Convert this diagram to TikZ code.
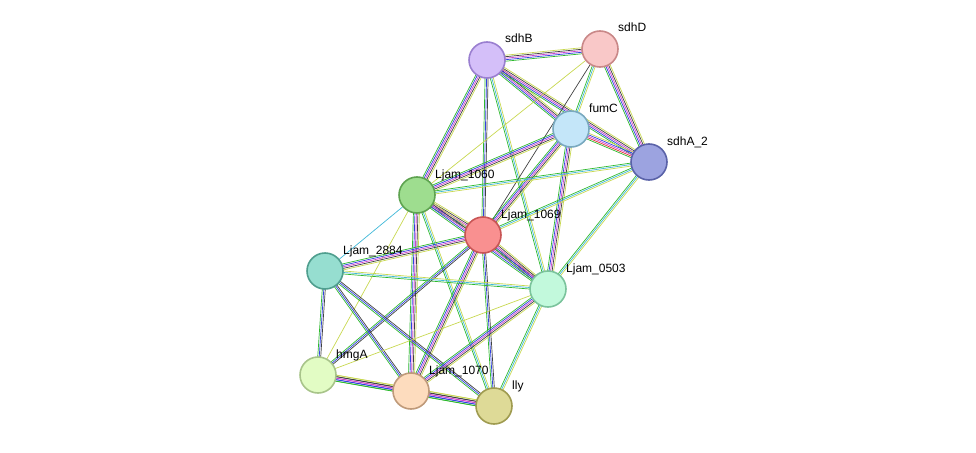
\documentclass[tikz,border=0pt]{standalone}
\usepackage{fontspec}
\setmainfont{Liberation Sans}
\usetikzlibrary{calc,backgrounds}

\definecolor{lgreen}{HTML}{2DB92D}
\definecolor{lblue}{HTML}{3040E0}
\definecolor{lpink}{HTML}{D040D0}
\definecolor{ldark}{HTML}{404040}
\definecolor{lyel}{HTML}{C8D850}
\definecolor{lcyan}{HTML}{40B8D8}
\definecolor{lred}{HTML}{E03030}

\definecolor{sdhBf}{HTML}{D4BFF9}\definecolor{sdhBd}{HTML}{9A7FD0}
\definecolor{sdhDf}{HTML}{F9C8C8}\definecolor{sdhDd}{HTML}{C98888}
\definecolor{fumCf}{HTML}{C4E6F9}\definecolor{fumCd}{HTML}{79A9BF}
\definecolor{sdhAf}{HTML}{9CA3E0}\definecolor{sdhAd}{HTML}{5A62A8}
\definecolor{ljsf}{HTML}{9EDD8F}\definecolor{ljsd}{HTML}{5EA350}
\definecolor{ljnf}{HTML}{F99090}\definecolor{ljnd}{HTML}{C85555}
\definecolor{ljef}{HTML}{96DED0}\definecolor{ljed}{HTML}{4F9E8E}
\definecolor{ljzf}{HTML}{C2F9DC}\definecolor{ljzd}{HTML}{7BC39C}
\definecolor{hmgf}{HTML}{E2FCC4}\definecolor{hmgd}{HTML}{A8C48A}
\definecolor{ljtf}{HTML}{FDDCBE}\definecolor{ljtd}{HTML}{BF9A7A}
\definecolor{llyf}{HTML}{DEDA97}\definecolor{llyd}{HTML}{9F9B50}

% edge bundles: offset/colour
\newcommand\lkfull{-3/lgreen,-1.5/lblue,0/lpink,1.5/ldark,3/lyel}
\newcommand\lkred{-3/lgreen,-1.5/lred,0/lpink,1.5/lblue,3/lyel}
\newcommand\lkthree{-1.5/lgreen,0/lblue,1.5/ldark}
\newcommand\lkgc{-1.5/lgreen,0/lcyan,1.5/lyel}
\newcommand\lkyel{0/lyel}
\newcommand\lkcyan{0/lcyan}
\newcommand\lkdark{0/ldark}
\newcommand\lnk[3]{\foreach \o/\c in #3 {\draw[\c, line width=0.7pt] ($(#1)!\o pt!90:(#2)$) -- ($(#2)!\o pt!-90:(#1)$);}}

\tikzset{
  prot/.style 2 args={circle, draw=#2, fill=#1, line width=1.6pt, minimum size=36pt, inner sep=0pt},
  plab/.style={font=\fontsize{12}{13}\selectfont, inner sep=0pt, anchor=base west}
}

\begin{document}
\begin{tikzpicture}[x=1pt, y=-1pt]
    \useasboundingbox (0,0) rectangle (976,452);

    \node[prot={sdhBf}{sdhBd}] (sdhB) at (487,60) {};
    \node[prot={sdhDf}{sdhDd}] (sdhD) at (600,49) {};
    \node[prot={fumCf}{fumCd}] (fumC) at (571,129) {};
    \node[prot={sdhAf}{sdhAd}] (sdhA) at (649,162) {};
    \node[prot={ljsf}{ljsd}] (lj1060) at (417,195) {};
    \node[prot={ljnf}{ljnd}] (lj1069) at (483,235) {};
    \node[prot={ljef}{ljed}] (lj2884) at (325,271) {};
    \node[prot={ljzf}{ljzd}] (lj0503) at (548,289) {};
    \node[prot={hmgf}{hmgd}] (hmgA) at (318,375) {};
    \node[prot={ljtf}{ljtd}] (lj1070) at (411,391) {};
    \node[prot={llyf}{llyd}] (lly) at (494,406) {};

    % labels
    \node[plab] at (505,43) {sdhB};
    \node[plab] at (618,32) {sdhD};
    \node[plab] at (589,112) {fumC};
    \node[plab] at (667,145) {sdhA\_2};
    \node[plab] at (435,178) {Ljam\_1060};
    \node[plab] at (501,218) {Ljam\_1069};
    \node[plab] at (343,254) {Ljam\_2884};
    \node[plab] at (566,272) {Ljam\_0503};
    \node[plab] at (336,358) {hmgA};
    \node[plab] at (429,374) {Ljam\_1070};
    \node[plab] at (512,389) {lly};

    \begin{pgfonlayer}{background}
    \lnk{sdhB}{sdhD}{\lkfull}
    \lnk{sdhB}{fumC}{\lkfull}
    \lnk{sdhB}{sdhA}{\lkfull}
    \lnk{sdhB}{lj1060}{\lkfull}
    \lnk{sdhB}{lj1069}{\lkthree}
    \lnk{sdhB}{lj0503}{\lkgc}
    \lnk{sdhD}{fumC}{\lkgc}
    \lnk{sdhD}{sdhA}{\lkfull}
    \lnk{sdhD}{lj1069}{\lkdark}
    \lnk{sdhD}{lj1060}{\lkyel}
    \lnk{fumC}{sdhA}{\lkred}
    \lnk{fumC}{lj1060}{\lkfull}
    \lnk{fumC}{lj1069}{\lkfull}
    \lnk{fumC}{lj0503}{\lkfull}
    \lnk{sdhA}{lj1060}{\lkgc}
    \lnk{sdhA}{lj1069}{\lkgc}
    \lnk{sdhA}{lj0503}{\lkgc}
    \lnk{lj1060}{lj1069}{\lkfull}
    \lnk{lj1060}{lj2884}{\lkcyan}
    \lnk{lj1060}{lj0503}{\lkfull}
    \lnk{lj1060}{lj1070}{\lkfull}
    \lnk{lj1060}{lly}{\lkgc}
    \lnk{lj1060}{hmgA}{\lkyel}
    \lnk{lj1069}{lj2884}{\lkfull}
    \lnk{lj1069}{lj0503}{\lkfull}
    \lnk{lj1069}{hmgA}{\lkthree}
    \lnk{lj1069}{lj1070}{\lkfull}
    \lnk{lj1069}{lly}{\lkthree}
    \lnk{lj2884}{lj0503}{\lkgc}
    \lnk{lj2884}{hmgA}{\lkthree}
    \lnk{lj2884}{lj1070}{\lkthree}
    \lnk{lj2884}{lly}{\lkthree}
    \lnk{lj0503}{hmgA}{\lkyel}
    \lnk{lj0503}{lj1070}{\lkfull}
    \lnk{lj0503}{lly}{\lkgc}
    \lnk{hmgA}{lj1070}{\lkfull}
    \lnk{hmgA}{lly}{\lkfull}
    \lnk{lj1070}{lly}{\lkfull}
    \end{pgfonlayer}
\end{tikzpicture}
\end{document}
